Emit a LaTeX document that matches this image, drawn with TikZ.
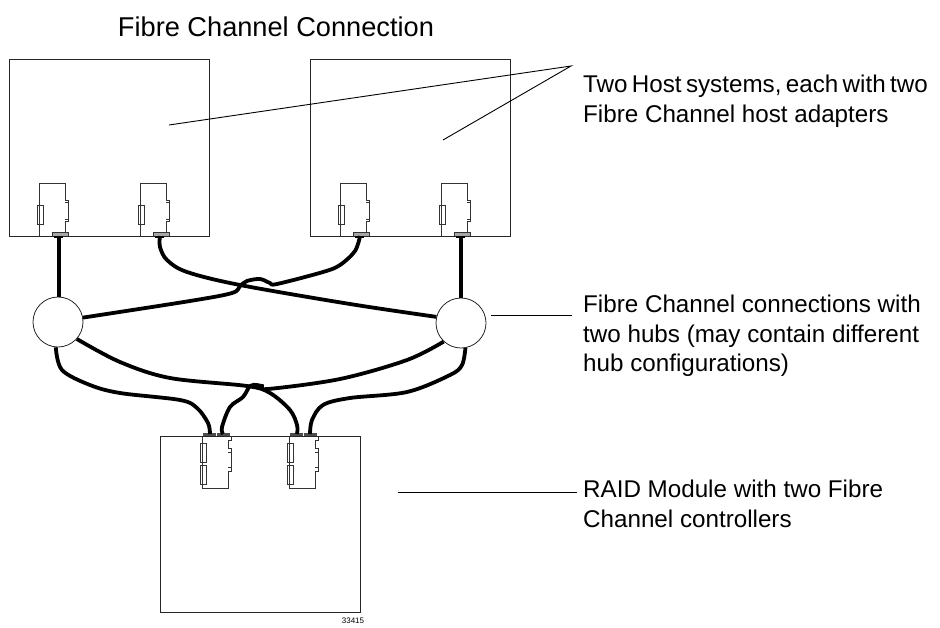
\documentclass[tikz,border=0pt]{standalone}
\usepackage{fontspec}
\setmainfont{Liberation Sans}
\usetikzlibrary{calc}
\tikzset{
	unit/.style={draw=black!85,line width=1pt},
	part/.style={draw=black!80,line width=1pt},
	cable/.style={line width=3.8pt,black},
	leader/.style={draw=black,line width=.9pt},
	note/.style={inner sep=0pt,anchor=north west,align=left,font=\fontsize{24.2}{29.5}\selectfont},
	hub/.style={circle,draw=black!85,line width=.8pt,fill=white,minimum size=50pt,inner sep=0pt},
	adapter/.pic={
		\coordinate (-port) at (20,0);
		\draw[part] (0,0) -- (0,-53) -- (26,-53) -- (26,-36) -- (29,-36) -- (29,-15) -- (26,-15) -- (26,-4);
		\draw[part] (-1.5,-31) rectangle (4,-12);
		\draw[part] (26,-34) -- (29,-34) (26,-17) -- (29,-17);
		\draw[part,fill=black!35] (13,0) -- (13,-4) -- (29,-4) -- (29,0);
		\fill[black] (15,0) rectangle (24,1.5);
	},
	controller/.pic={
		\coordinate (-porta) at (8,-2);
		\coordinate (-portb) at (21,-2);
		\draw[part] (0,0) -- (0,52) -- (26,52) -- (26,35) -- (29,35) -- (29,12) -- (26,12) -- (26,4) -- (29,4) -- (29,0);
		\draw[part] (-1.5,7) rectangle (4,26);
		\draw[part] (-1.5,29) rectangle (4,48);
		\draw[part] (26,16) -- (29,16) (26,31) -- (29,31);
		\fill[black!70] (1,-3) rectangle (14,0);
		\fill[black!70] (15,-3) rectangle (28,0);
	}
}
\begin{document}
\begin{tikzpicture}[x=1pt,y=-1pt]
	\useasboundingbox (0,0) rectangle (940,627);
	% host systems and RAID module
	\node[unit,minimum width=200pt,minimum height=177pt,inner sep=0pt] (hosta) at (109,147.5) {};
	\node[unit,minimum width=200pt,minimum height=177pt,inner sep=0pt] (hostb) at (410,147.5) {};
	\node[unit,minimum width=200pt,minimum height=176pt,inner sep=0pt] (raid) at (260,524) {};
	% adapters and controllers
	\foreach \n/\x in {1/39,2/140,3/340,4/441}
		\pic (ad\n) at (\x,236) {adapter};
	\foreach \n/\x in {1/202,2/289}
		\pic (ct\n) at (\x,436) {controller};
	% hubs
	\node[hub] (hubl) at (58,322) {};
	\node[hub] (hubr) at (461,323) {};
	% upper cables
	\draw[cable] (ad1-port) -- (ad1-port|-hubl.north);
	\draw[cable] (ad4-port) -- (ad4-port|-hubr.north);
	\draw[cable] plot[smooth,tension=.55] coordinates {(ad2-port) (160,247) (167,260) (187,272) (240,285) (350,304) (hubr.166)};
	\draw[cable] plot[smooth,tension=.55] coordinates {(hubl.10) (190,301) (232,293) (240,286) (247,281) (260,279) (270,283) (277,284) (323,272) (340,265) (355,251) (ad3-port)};
	% lower cables
	\draw[cable] plot[smooth,tension=.55] coordinates {(hubl.-95) (62,370) (90,385) (120,393) (180,400) (197,408) (208,423) (ct1-porta)};
	\draw[cable] plot[smooth,tension=.55] coordinates {(hubl.-42) (120,362) (170,378) (247,386) (270,393) (290,410) (297,425) (ct2-porta)};
	\draw[cable] plot[smooth,tension=.55] coordinates {(hubr.-133) (407,360) (340,379) (268,389) (262,386) (257,385) (250,386) (243,397) (230,407) (222,427) (ct1-portb)};
	\draw[cable] plot[smooth,tension=.55] coordinates {(hubr.-80) (462,365) (450,375) (407,392) (350,398) (323,405) (312,420) (ct2-portb)};
	% texts
	\node[note,anchor=center,font=\fontsize{27.2}{30}\selectfont] (title) at (276,27) {Fibre Channel Connection};
	\node[note] (hostnote) at (583,75) {{\spaceskip=.18em Two Host systems, each with two}\\Fibre Channel host adapters};
	\node[note] (hubnote) at (583,295) {Fibre Channel connections with\\two hubs (may contain different\\hub configurations)};
	\node[note] (raidnote) at (583,480) {RAID Module with two Fibre\\Channel controllers};
	\node[font=\fontsize{8}{8}\selectfont,inner sep=0pt] (tag) at (353,621) {33415};
	% leaders
	\coordinate (hostend) at (571,66);
	\coordinate (hostin) at (169,125);
	\coordinate (hostinb) at (443,140);
	\coordinate (hubend) at (572,315);
	\coordinate (raidend) at (577,492);
	\draw[leader] (hostin) -- (hostend) -- (hostinb);
	\draw[leader] (hubr.east|-hubend) ++(5,0) -- (hubend);
	\draw[leader] (raid.east|-raidend) ++(37,0) -- (raidend);
\end{tikzpicture}
\end{document}
